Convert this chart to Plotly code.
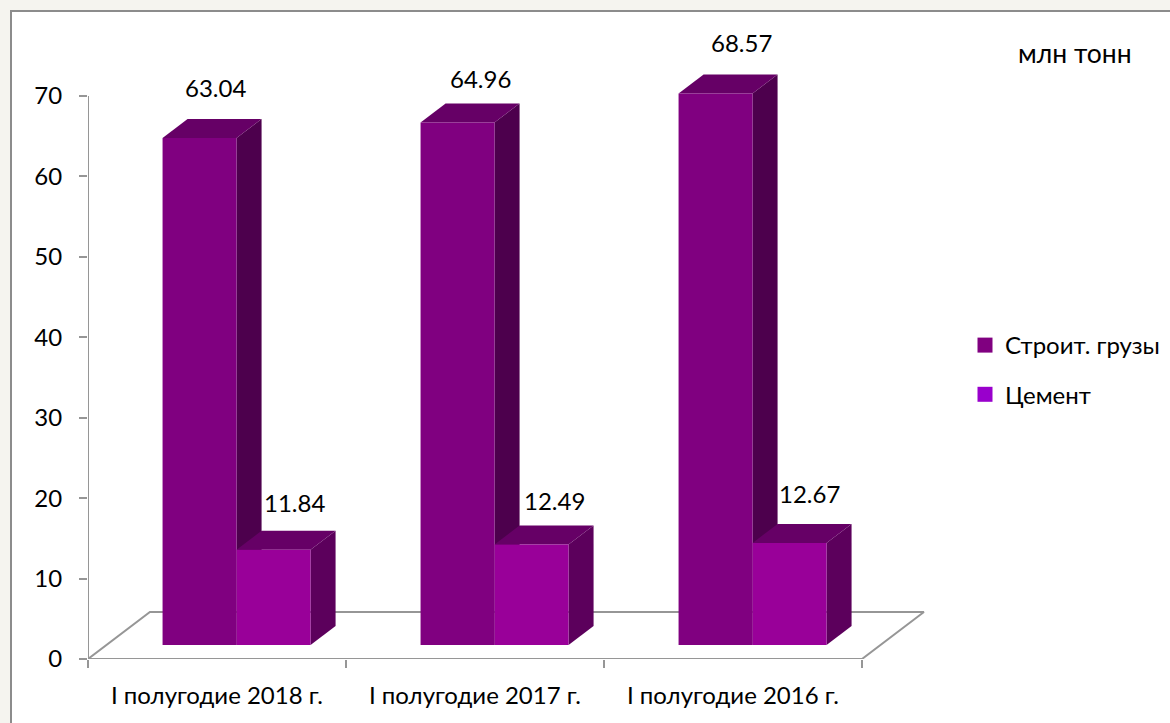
#!/usr/bin/env python3

import plotly.graph_objects as go

categories = ["I полугодие 2018 г.", "I полугодие 2017 г.", "I полугодие 2016 г."]
stroit_values = [63.04, 64.96, 68.57]
cement_values = [11.84, 12.49, 12.67]
series_names = ["Строит. грузы", "Цемент"]
y_ticks = [0, 10, 20, 30, 40, 50, 60, 70]
unit_label = "млн тонн"

FONT = "Lato, 'Noto Sans', sans-serif"
FONT_SIZE = 24
AXIS_COLOR = "#969696"

WIDTH = 1170
HEIGHT = 723
PLOT_LEFT = 88
PLOT_BOTTOM = 659
PX_PER_CATEGORY = 258
PX_PER_UNIT = 563 / 70

# fake-3d geometry, in axis units
BAR_BASE = 1.75
BAR_WIDTH = 0.2868
BAR_LEFT = 0.289
DEPTH_X = 0.097
DEPTH_Y = 2.36
FLOOR_X = 0.24
FLOOR_Y = 5.85

# front, top, side
STROIT_FACES = ("#800080", "#660066", "#4d004d")
CEMENT_FACES = ("#990099", "#660066", "#5c005c")
LEGEND_COLORS = ["#800080", "#9900cc"]

# nudges for the value labels, in pixels from the back top edge of each bar
STROIT_LABEL_SHIFT = [(16, 31), (23, 25), (26, 32)]
CEMENT_LABEL_SHIFT = [(21, 28), (23, 25), (20, 31)]


def paper_x(px):
    return (px - PLOT_LEFT) / (WIDTH - PLOT_LEFT)


def paper_y(px):
    return (PLOT_BOTTOM - px) / PLOT_BOTTOM


def add_line(figure, xs, ys):
    figure.add_trace(
        go.Scatter(
            x=xs,
            y=ys,
            mode="lines",
            line=dict(color=AXIS_COLOR, width=2),
            showlegend=False,
            hoverinfo="skip",
        )
    )


def add_polygon(figure, xs, ys, color):
    figure.add_trace(
        go.Scatter(
            x=xs + xs[:1],
            y=ys + ys[:1],
            mode="lines",
            fill="toself",
            fillcolor=color,
            line=dict(width=0, color=color),
            showlegend=False,
            hoverinfo="skip",
        )
    )


def add_bar(figure, left, value, faces):
    right = left + BAR_WIDTH
    top = BAR_BASE + value
    front, top_face, side = faces
    add_polygon(
        figure,
        [right, right + DEPTH_X, right + DEPTH_X, right],
        [BAR_BASE, BAR_BASE + DEPTH_Y, top + DEPTH_Y, top],
        side,
    )
    add_polygon(
        figure,
        [left, left + DEPTH_X, right + DEPTH_X, right],
        [top, top + DEPTH_Y, top + DEPTH_Y, top],
        top_face,
    )
    add_polygon(figure, [left, right, right, left], [BAR_BASE, BAR_BASE, top, top], front)


def value_label(x, value, shift):
    return dict(
        x=x,
        y=BAR_BASE + value + DEPTH_Y,
        text=f"{value:.2f}",
        showarrow=False,
        xanchor="center",
        yanchor="middle",
        xshift=shift[0],
        yshift=shift[1],
    )


figure = go.Figure()

# floor of the 3d box and the value axis, behind the bars
count = len(categories)
add_line(
    figure,
    [0, FLOOR_X, count + FLOOR_X, count, 0],
    [0, FLOOR_Y, FLOOR_Y, 0, 0],
)
add_line(figure, [0, 0], [y_ticks[0], y_ticks[-1]])

annotations = []
for index in range(count):
    left = index + BAR_LEFT
    add_bar(figure, left, stroit_values[index], STROIT_FACES)
    add_bar(figure, left + BAR_WIDTH, cement_values[index], CEMENT_FACES)
    annotations.append(
        value_label(left + 0.5 * BAR_WIDTH, stroit_values[index], STROIT_LABEL_SHIFT[index])
    )
    annotations.append(
        value_label(left + 1.5 * BAR_WIDTH, cement_values[index], CEMENT_LABEL_SHIFT[index])
    )

annotations.append(
    dict(
        x=paper_x(1075),
        y=paper_y(53),
        xref="paper",
        yref="paper",
        xanchor="center",
        yanchor="middle",
        text=unit_label,
        showarrow=False,
        font=dict(size=26.5),
    )
)

for name, color, group in zip(series_names, LEGEND_COLORS, ("a", "b")):
    figure.add_trace(
        go.Scatter(
            x=[None],
            y=[None],
            mode="markers",
            name=name,
            legendgroup=group,
            marker=dict(symbol="square", size=15, color=color),
        )
    )

figure.update_layout(
    width=WIDTH,
    height=HEIGHT,
    margin=dict(l=PLOT_LEFT, r=0, t=0, b=HEIGHT - PLOT_BOTTOM),
    paper_bgcolor="#f5f4ef",
    plot_bgcolor="rgba(0,0,0,0)",
    font=dict(family=FONT, size=FONT_SIZE, color="#000000"),
    annotations=annotations,
    legend=dict(
        x=paper_x(965),
        y=paper_y(323),
        xanchor="left",
        yanchor="top",
        bgcolor="rgba(0,0,0,0)",
        tracegroupgap=15,
    ),
    shapes=[
        dict(
            type="rect",
            xref="paper",
            yref="paper",
            x0=paper_x(11),
            x1=paper_x(WIDTH + 5),
            y0=paper_y(HEIGHT + 5),
            y1=paper_y(11),
            line=dict(color="#8c8c8c", width=2),
            fillcolor="#ffffff",
            layer="below",
        )
    ],
)
figure.update_xaxes(
    range=[0, (WIDTH - PLOT_LEFT) / PX_PER_CATEGORY],
    tickvals=[i + 0.5 for i in range(count)],
    ticktext=categories,
    ticks="",
    ticklabelstandoff=20,
    minor=dict(
        tickvals=list(range(count + 1)),
        ticks="outside",
        ticklen=8,
        tickwidth=2,
        tickcolor=AXIS_COLOR,
    ),
    showline=False,
    showgrid=False,
    zeroline=False,
)
figure.update_yaxes(
    range=[0, PLOT_BOTTOM / PX_PER_UNIT],
    tickvals=y_ticks,
    ticks="outside",
    ticklen=8,
    tickwidth=2,
    tickcolor=AXIS_COLOR,
    ticklabelstandoff=12,
    showline=False,
    showgrid=False,
    zeroline=False,
)

figure.write_html(
    "out.html",
    config={"displayModeBar": False},
    post_script="document.body.style.margin='0';document.body.style.overflow='hidden';",
)
